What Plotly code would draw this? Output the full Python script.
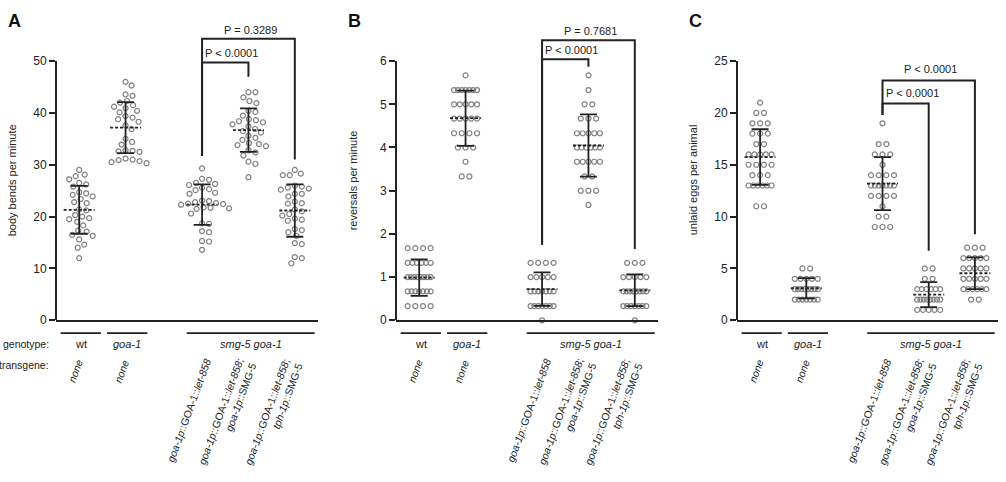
import numpy as np
import plotly.graph_objects as go

W, H = 1006, 482
FONT = "Liberation Sans, Arial, Helvetica, sans-serif"
INK = "#222222"
DOT = "#808080"

# ---------------- data ----------------
x_positions = [1.0, 2.0, 3.65, 4.65, 5.65]
genotype_labels = ["wt", "<i>goa-1</i>", "<i>smg-5 goa-1</i>"]
transgene_labels = [
    "<i>none</i>",
    "<i>none</i>",
    "<i>goa-1p</i>::GOA-1::<i>let-858</i>",
    "<i>goa-1p</i>::GOA-1::<i>let-858</i>;<br><i>goa-1p</i>::SMG-5",
    "<i>goa-1p</i>::GOA-1::<i>let-858</i>;<br><i>tph-1p</i>::SMG-5",
]

# Panel A: body bends per minute
bends_wt = [29.0, 28.1, 27.8, 27.2, 26.5, 26.2, 25.8, 24.7, 24.2, 23.9, 23.4, 22.8, 22.6, 21.4, 21.2,
            20.3, 20.0, 19.7, 19.5, 19.0, 18.3, 17.3, 17.1, 16.5, 16.3, 15.6, 14.6, 14.0, 12.0, 24.5]
bends_goa1 = [46.0, 45.3, 43.6, 43.3, 42.3, 42.0, 41.5, 41.2, 40.9, 40.4, 40.1, 39.4, 39.1, 38.8, 38.3,
              37.6, 36.9, 35.0, 34.4, 33.9, 32.7, 32.6, 32.5, 32.8, 31.2, 30.9, 30.5, 30.3, 30.7, 31.0]
bends_tg = [29.3, 27.3, 27.1, 26.5, 26.3, 26.1, 25.6, 25.3, 25.1, 24.6, 24.4, 23.1, 23.0, 22.8, 22.6,
            22.5, 22.4, 22.3, 21.8, 21.7, 21.6, 21.5, 20.6, 18.7, 18.6, 17.2, 17.0, 15.3, 15.2, 13.6]
bends_goa1p_smg5 = [44.0, 44.0, 43.0, 42.3, 41.9, 40.4, 40.2, 39.5, 38.8, 38.6, 38.4, 38.2, 37.8, 37.4, 36.9,
                    36.5, 36.2, 35.6, 35.2, 34.8, 34.2, 34.0, 33.8, 33.6, 32.8, 32.4, 31.8, 30.6, 30.2, 27.6]
bends_tph1p_smg5 = [29.0, 28.3, 28.0, 28.0, 26.0, 25.8, 25.6, 25.4, 25.2, 24.4, 24.4, 23.9, 22.9, 22.6, 22.5,
                    21.4, 21.0, 20.5, 20.2, 19.6, 19.4, 19.2, 17.6, 17.4, 17.0, 16.3, 14.9, 14.7, 12.2, 11.0, 12.0]

# Panel B: reversals per minute
rev_wt = [1.67, 1.67, 1.67, 1.67, 1.33, 1.33, 1.33, 1.33, 1.33, 1.33,
          1.0, 1.0, 1.0, 1.0, 1.0, 1.0, 1.0, 1.0, 0.67, 0.67, 0.67, 0.67, 0.67, 0.67, 0.67,
          0.33, 0.33, 0.33, 0.33]
rev_goa1 = [5.67, 5.33, 5.33, 5.33, 5.33, 5.33, 5.33, 5.33, 5.0, 5.0, 5.0, 5.0, 5.0,
            4.67, 4.67, 4.67, 4.67, 4.67, 4.33, 4.33, 4.33, 4.33, 4.0, 4.0, 4.0, 3.67, 3.33, 3.33]
rev_tg = [1.33, 1.33, 1.33, 1.33, 1.0, 1.0, 1.0, 1.0, 1.0, 0.67, 0.67, 0.67, 0.67, 0.67, 0.67, 0.67,
          0.33, 0.33, 0.33, 0.33, 0.33, 0.33, 0.33, 0.0]
rev_goa1p_smg5 = [5.67, 5.33, 5.0, 5.0, 4.67, 4.67, 4.67, 4.33, 4.33, 4.33, 4.33, 4.33,
                  4.0, 4.0, 4.0, 4.0, 4.0, 4.0, 3.67, 3.67, 3.67, 3.67, 3.67, 3.33, 3.33,
                  3.0, 3.0, 3.0, 2.67]
rev_tph1p_smg5 = [1.33, 1.33, 1.33, 1.0, 1.0, 1.0, 1.0, 1.0, 0.67, 0.67, 0.67, 0.67, 0.67, 0.67, 0.67, 0.67,
                  0.33, 0.33, 0.33, 0.33, 0.33, 0.33, 0.33, 0.0]

# Panel C: unlaid eggs per animal
eggs_wt = [21, 20, 20, 19, 19, 19, 18, 18, 18, 17, 17, 16, 16, 16, 16, 16, 15, 15, 15, 15,
           14, 14, 14, 13, 13, 13, 13, 13, 13, 11, 11]
eggs_goa1 = [5, 5, 4, 4, 4, 4, 4, 3, 3, 3, 3, 3, 3, 3, 3, 2, 2, 2, 2, 2, 2, 2]
eggs_tg = [19, 17, 17, 16, 16, 16, 15, 14, 14, 14, 14, 13, 13, 13, 13, 13, 13, 13,
           12, 12, 12, 12, 11, 10, 10, 9, 9, 9]
eggs_goa1p_smg5 = [5, 5, 4, 4, 3, 3, 3, 3, 3, 3, 2, 2, 2, 2, 2, 2, 2, 2, 1, 1, 1, 1, 1]
eggs_tph1p_smg5 = [7, 7, 7, 6, 6, 6, 6, 6, 5, 5, 5, 5, 5, 4, 4, 4, 4, 4, 3, 3, 3, 3, 3, 3, 2, 2]

panels = [
    dict(letter="A", title="body bends per minute", top=50, dtick=10, swarm=True,
         groups=[bends_wt, bends_goa1, bends_tg, bends_goa1p_smg5, bends_tph1p_smg5],
         # (left idx, right idx, bar y, left leg bottom, right leg bottom, text, text y, inner?)
         brackets=[(2, 3, 49.75, 31.7, 47.0, "P < 0.0001", 51.6, True),
                   (2, 4, 54.3, 31.7, 31.0, "P = 0.3289", 56.0, False)]),
    dict(letter="B", title="reversals per minute", top=6, dtick=1, swarm=False,
         groups=[rev_wt, rev_goa1, rev_tg, rev_goa1p_smg5, rev_tph1p_smg5],
         brackets=[(2, 3, 6.04, 1.75, 5.87, "P < 0.0001", 6.25, True),
                   (2, 4, 6.48, 1.75, 1.65, "P = 0.7681", 6.70, False)]),
    dict(letter="C", title="unlaid eggs per animal", top=25, dtick=5, swarm=False,
         groups=[eggs_wt, eggs_goa1, eggs_tg, eggs_goa1p_smg5, eggs_tph1p_smg5],
         brackets=[(2, 3, 20.9, 19.8, 6.7, "P < 0.0001", 21.9, True),
                   (2, 4, 23.13, 19.8, 8.3, "P < 0.0001", 24.2, False)]),
]

# ---------------- layout geometry (pixels) ----------------
X_LEFT = [56, 396, 737]
X_RIGHT = [318, 658, 998]
X_TEXT_TITLE = [12, 353, 693]
X_LETTER = [14, 354, 695]
XR = [0.5, 6.15]
Y0_PX, YTICK_PX, YTOP_PX = 325, 62, 18
GENO_SPANS = [(0.6, 1.47), (1.6, 2.47), (3.32, 6.08)]


def py(p):
    return 1 - p / H


def swarm_offsets(vals, pyu, D=7.0):
    vals = np.asarray(vals, float)
    order = np.argsort(-vals, kind="stable")
    placed = []
    offs = np.zeros(len(vals))
    for i in order:
        yy = vals[i] * pyu
        k = 0
        done = False
        while not done:
            cands = [0.0] if k == 0 else [k * 0.5, -k * 0.5]
            for c in cands:
                if all((c - a) ** 2 + (yy - b) ** 2 >= D * D for a, b in placed):
                    offs[i] = c
                    placed.append((c, yy))
                    done = True
                    break
            k += 1
    return offs


def row_offsets(vals):
    vals = np.asarray(vals, float)
    offs = np.zeros(len(vals))
    for v in np.unique(vals):
        idx = np.where(vals == v)[0]
        n = len(idx)
        sp = min(7.7, 23.0 / (n - 1)) if n > 1 else 0.0
        offs[idx] = (np.arange(n) - (n - 1) / 2) * sp
    return offs


fig = go.Figure()
layout = dict(width=W, height=H, margin=dict(l=0, r=0, t=0, b=0),
              paper_bgcolor="white", plot_bgcolor="white", showlegend=False,
              font=dict(family=FONT, color=INK, size=11))
shapes, annotations = [], []

for i, p in enumerate(panels):
    sfx = "" if i == 0 else str(i + 1)
    xa, ya = "x" + sfx, "y" + sfx
    ytop_range = p["top"] * (Y0_PX - YTOP_PX) / (Y0_PX - YTICK_PX)
    pxx = (X_RIGHT[i] - X_LEFT[i]) / (XR[1] - XR[0])
    pyu = (Y0_PX - YTICK_PX) / p["top"]

    layout["xaxis" + sfx] = dict(domain=[X_LEFT[i] / W, X_RIGHT[i] / W], range=XR, anchor=ya,
                                 showline=True, linecolor=INK, linewidth=2, ticks="",
                                 showticklabels=False, showgrid=False, zeroline=False, fixedrange=True)
    layout["yaxis" + sfx] = dict(domain=[py(Y0_PX), py(YTOP_PX)], range=[0, ytop_range], anchor=xa,
                                 tickvals=list(range(0, p["top"] + 1, p["dtick"])),
                                 ticks="outside", ticklen=6, tickwidth=1.6, tickcolor=INK,
                                 tickfont=dict(size=12, color=INK, family=FONT),
                                 showline=False, showgrid=False, zeroline=False, fixedrange=True)

    # y axis line only up to the top tick
    shapes.append(dict(type="line", xref=xa + " domain", yref=ya, x0=0, x1=0, y0=0, y1=p["top"],
                       line=dict(color=INK, width=2)))

    for j, vals in enumerate(p["groups"]):
        vals = np.asarray(vals, float)
        offs = swarm_offsets(vals, pyu) if p["swarm"] else row_offsets(vals)
        xc = x_positions[j]
        fig.add_trace(go.Scatter(x=xc + offs / pxx, y=vals, mode="markers", xaxis=xa, yaxis=ya,
                                 cliponaxis=False, hoverinfo="skip",
                                 marker=dict(symbol="circle-open", size=5, color=DOT,
                                             line=dict(width=1.2, color=DOT))))
        m, s = vals.mean(), vals.std(ddof=1)
        cap = 8.5 / pxx
        half = 15.5 / pxx
        fig.add_trace(go.Scatter(
            x=[xc, xc, None, xc - cap, xc + cap, None, xc - cap, xc + cap],
            y=[m - s, m + s, None, m + s, m + s, None, m - s, m - s],
            mode="lines", xaxis=xa, yaxis=ya, hoverinfo="skip",
            line=dict(color=INK, width=1.8)))
        fig.add_trace(go.Scatter(x=[xc - half, xc + half], y=[m, m], mode="lines", xaxis=xa, yaxis=ya,
                                 hoverinfo="skip", line=dict(color=INK, width=1.8, dash="3px,2px")))

    # significance brackets
    for (l, r, ybar, yl, yr, txt, ty, inner) in p["brackets"]:
        xl, xr_ = x_positions[l], x_positions[r]
        fig.add_trace(go.Scatter(x=[xl, xl, xr_, xr_], y=[yl, ybar, ybar, yr], mode="lines",
                                 xaxis=xa, yaxis=ya, hoverinfo="skip",
                                 line=dict(color=INK, width=2)))
        if inner:
            annotations.append(dict(xref=xa, yref=ya, x=xl, y=ty, text=txt, showarrow=False,
                                    xanchor="left", yanchor="middle", xshift=1,
                                    font=dict(size=11, color=INK, family=FONT)))
        else:
            annotations.append(dict(xref=xa, yref=ya, x=(xl + xr_) / 2, y=ty, text=txt,
                                    showarrow=False, xanchor="center", yanchor="middle", xshift=2,
                                    font=dict(size=11, color=INK, family=FONT)))

    # genotype lines and labels
    for (a, b), lab in zip(GENO_SPANS, genotype_labels):
        shapes.append(dict(type="line", xref=xa, yref="paper", x0=a, x1=b, y0=py(338), y1=py(338),
                           line=dict(color=INK, width=1.6)))
        annotations.append(dict(xref=xa, yref="paper", x=(a + b) / 2, y=py(349), text=lab,
                                showarrow=False, xanchor="center", yanchor="middle",
                                font=dict(size=11, color=INK, family=FONT)))

    # transgene labels (rotated)
    for j, lab in enumerate(transgene_labels):
        annotations.append(dict(xref=xa, yref="paper", x=x_positions[j], y=py(360), text=lab,
                                showarrow=False, xanchor="right", yanchor="top", textangle=-70,
                                xshift=8 if j < 2 else 13, align="right",
                                font=dict(size=10.5, color=INK, family=FONT)))

    # y-axis title and panel letter
    annotations.append(dict(xref="paper", yref="paper", x=X_TEXT_TITLE[i] / W, y=py(183),
                            text=p["title"], textangle=-90, showarrow=False,
                            xanchor="center", yanchor="middle",
                            font=dict(size=11, color=INK, family=FONT)))
    annotations.append(dict(xref="paper", yref="paper", x=X_LETTER[i] / W, y=py(21),
                            text="<b>" + p["letter"] + "</b>", showarrow=False,
                            xanchor="center", yanchor="middle",
                            font=dict(size=18, color="#111111", family=FONT)))

annotations.append(dict(xref="paper", yref="paper", x=50 / W, y=py(349), text="genotype:",
                        showarrow=False, xanchor="right", yanchor="middle", borderpad=0,
                        font=dict(size=10.5, color=INK, family=FONT)))
annotations.append(dict(xref="paper", yref="paper", x=50 / W, y=py(370), text="transgene:",
                        showarrow=False, xanchor="right", yanchor="middle", borderpad=0,
                        font=dict(size=10.5, color=INK, family=FONT)))

layout["shapes"] = shapes
layout["annotations"] = annotations
fig.update_layout(**layout)
fig.write_html("out.html")
